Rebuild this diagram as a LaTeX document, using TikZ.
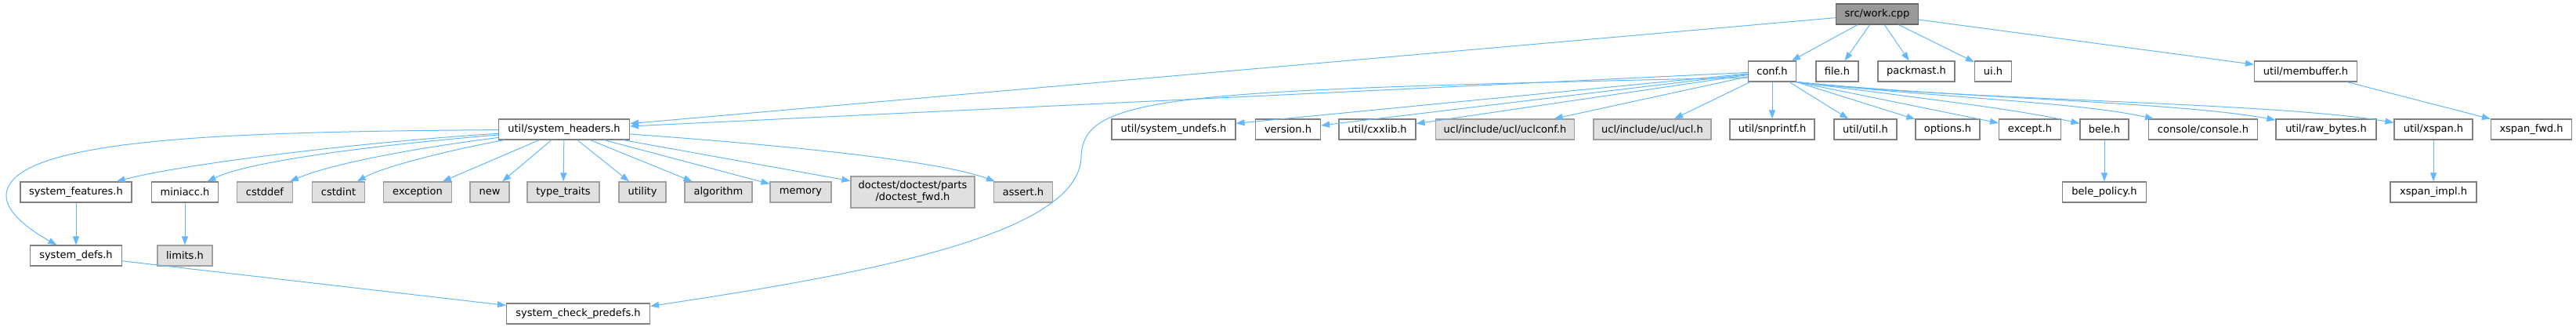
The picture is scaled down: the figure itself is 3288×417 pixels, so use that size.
\documentclass[tikz,border=0pt]{standalone}
\usepackage{fontspec}
\setmainfont{DejaVu Sans}
\usetikzlibrary{arrows.meta}
\definecolor{edgeblue}{HTML}{63B8FF}
\definecolor{docborder}{HTML}{808080}
\definecolor{extborder}{HTML}{A0A0A0}
\definecolor{extfill}{HTML}{E0E0E0}
\definecolor{rootfill}{HTML}{999999}

\begin{document}
\begin{tikzpicture}[x=1pt, y=-1pt,
  hdr/.style={draw=docborder, fill=white, line width=1.2pt, minimum height=26pt,
    inner xsep=2pt, inner ysep=0pt, font=\fontsize{13pt}{15pt}\selectfont},
  exthdr/.style={hdr, draw=extborder, fill=extfill},
  srcfile/.style={hdr, draw=docborder!80!black, fill=rootfill},
  dep/.style={draw=edgeblue, line width=1pt, -{Triangle[length=11pt, width=8pt]}}]
  \useasboundingbox (0,0) rectangle (3288,417);
  % root
  \node[srcfile, minimum width=105pt] (work) at (2396,18) {src/work.cpp};
  % direct includes
  \node[hdr, minimum width=61pt]  (conf)      at (2262,91) {conf.h};
  \node[hdr, minimum width=54pt]  (file)      at (2345,91) {file.h};
  \node[hdr, minimum width=98pt]  (packmast)  at (2446,91) {packmast.h};
  \node[hdr, minimum width=47pt]  (ui)        at (2544,91) {ui.h};
  \node[hdr, minimum width=131pt] (membuffer) at (2943,91) {util/membuffer.h};
  % second row
  \node[hdr, minimum width=167pt]    (sysh)     at (720,165)  {util/system\_headers.h};
  \node[hdr, minimum width=158pt]    (undefs)   at (1498,165) {util/system\_undefs.h};
  \node[hdr, minimum width=83pt]     (version)  at (1644,165) {version.h};
  \node[hdr, minimum width=98pt]     (cxxlib)   at (1758,165) {util/cxxlib.h};
  \node[exthdr, minimum width=177pt] (uclconf)  at (1921,165) {ucl/include/ucl/uclconf.h};
  \node[exthdr, minimum width=150pt] (ucl)      at (2109,165) {ucl/include/ucl/ucl.h};
  \node[hdr, minimum width=108pt]    (snprintf) at (2262,165) {util/snprintf.h};
  \node[hdr, minimum width=80pt]     (utilh)    at (2381,165) {util/util.h};
  \node[hdr, minimum width=82pt]     (options)  at (2486,165) {options.h};
  \node[hdr, minimum width=79pt]     (except)   at (2591,165) {except.h};
  \node[hdr, minimum width=62pt]     (bele)     at (2686,165) {bele.h};
  \node[hdr, minimum width=139pt]    (console)  at (2812,165) {console/console.h};
  \node[hdr, minimum width=128pt]    (rawbytes) at (2969,165) {util/raw\_bytes.h};
  \node[hdr, minimum width=100pt]    (xspan)    at (3106,165) {util/xspan.h};
  \node[hdr, minimum width=103pt]    (xspanfwd) at (3231,165) {xspan\_fwd.h};
  % third row
  \node[hdr, minimum width=142pt]    (sysfeat)    at (97,245)   {system\_features.h};
  \node[hdr, minimum width=85pt]     (miniacc)    at (236,245)  {miniacc.h};
  \node[exthdr, minimum width=71pt]  (cstddef)    at (338,245)  {cstddef};
  \node[exthdr, minimum width=67pt]  (cstdint)    at (432,245)  {cstdint};
  \node[exthdr, minimum width=87pt]  (exception)  at (533,245)  {exception};
  \node[exthdr, minimum width=50pt]  (new)        at (625,245)  {new};
  \node[exthdr, minimum width=92pt]  (typetraits) at (719,245)  {type\_traits};
  \node[exthdr, minimum width=60pt]  (utility)    at (820,245)  {utility};
  \node[exthdr, minimum width=86pt]  (algorithm)  at (917,245)  {algorithm};
  \node[exthdr, minimum width=78pt]  (memory)     at (1022,245) {memory};
  \node[exthdr, minimum width=158pt, minimum height=40pt, align=center]
    (doctest) at (1165,245) {doctest/doctest/parts\\/doctest\_fwd.h};
  \node[exthdr, minimum width=75pt]  (assert)     at (1306,245) {assert.h};
  \node[hdr, minimum width=107pt]    (belepolicy) at (2686,245) {bele\_policy.h};
  \node[hdr, minimum width=110pt]    (xspanimpl)  at (3106,245) {xspan\_impl.h};
  % fourth and fifth rows
  \node[hdr, minimum width=117pt]    (sysdefs) at (97,326)  {system\_defs.h};
  \node[exthdr, minimum width=70pt]  (limits)  at (236,326) {limits.h};
  \node[hdr, minimum width=183pt]    (predefs) at (738,400) {system\_check\_predefs.h};

  % work.cpp includes
  \draw[dep] (work) -- (sysh);
  \draw[dep] (work) -- (conf);
  \draw[dep] (work) -- (file);
  \draw[dep] (work) -- (packmast);
  \draw[dep] (work) -- (ui);
  \draw[dep] (work) -- (membuffer);
  \draw[dep] (membuffer) -- (xspanfwd);
  % conf.h includes
  \draw[dep] (conf) -- (sysh);
  \draw[dep] ([yshift=-8pt]conf.west) .. controls (1500,115) and (1382,120) .. (1380,200)
    .. controls (1378,300) and (1100,350) .. ([yshift=-4pt]predefs.north east);
  \draw[dep] (conf) -- (undefs);
  \draw[dep] (conf) -- (version);
  \draw[dep] (conf) -- (cxxlib);
  \draw[dep] (conf) -- (uclconf);
  \draw[dep] (conf) -- (ucl);
  \draw[dep] (conf) -- (snprintf);
  \draw[dep] (conf) -- (utilh);
  \draw[dep] (conf.south east) -- (options);
  \draw[dep] (conf.south east) -- (except);
  \draw[dep] (conf.south east) .. controls (2450,125) and (2580,140) .. (bele);
  \draw[dep] (conf.south east) .. controls (2480,125) and (2650,130) .. (console);
  \draw[dep] (conf.south east) .. controls (2500,125) and (2780,130) .. (rawbytes);
  \draw[dep] (conf.south east) .. controls (2500,128) and (2900,130) .. (xspan);
  \draw[dep] (bele) -- (belepolicy);
  \draw[dep] (xspan) -- (xspanimpl);
  % system_headers.h includes
  \draw[dep] (sysh) .. controls (300,168) and (8,175) .. (8,250)
    .. controls (8,275) and (50,300) .. (sysdefs);
  \draw[dep] (sysh) .. controls (450,182) and (230,210) .. (sysfeat);
  \draw[dep] (sysh) .. controls (480,185) and (320,205) .. (miniacc);
  \draw[dep] (sysh) .. controls (520,190) and (420,210) .. (cstddef);
  \draw[dep] (sysh) .. controls (580,190) and (490,212) .. (cstdint);
  \draw[dep] (sysh) -- (exception);
  \draw[dep] (sysh) -- (new);
  \draw[dep] (sysh) -- (typetraits);
  \draw[dep] (sysh) -- (utility);
  \draw[dep] (sysh) -- (algorithm);
  \draw[dep] (sysh) -- (memory);
  \draw[dep] (sysh) -- (doctest);
  \draw[dep] (sysh) .. controls (1000,185) and (1200,205) .. (assert);
  \draw[dep] (sysfeat) -- (sysdefs);
  \draw[dep] (miniacc) -- (limits);
  \draw[dep] (sysdefs) -- (predefs);
\end{tikzpicture}
\end{document}
